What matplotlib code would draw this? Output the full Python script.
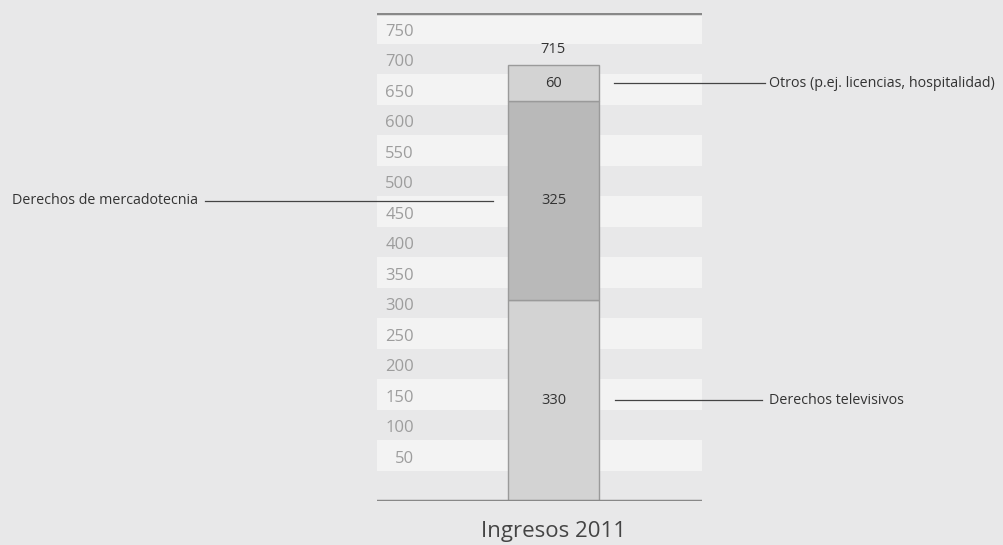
import matplotlib.pyplot as plt
from matplotlib.transforms import blended_transform_factory

# data
segments = ["Derechos televisivos", "Derechos de mercadotecnia",
            "Otros (p.ej. licencias, hospitalidad)"]
values = [330, 325, 60]
seg_colors = ["#d3d3d3", "#b9b9b9", "#d3d3d3"]
tick_values = list(range(50, 800, 50))
category = "Ingresos 2011"

plt.rcParams['font.family'] = ['Open Sans', 'DejaVu Sans']

BG = "#e8e8e9"
fig = plt.figure(figsize=(10.04, 5.45), dpi=100, facecolor=BG)
W, H = 1004, 545
ax = fig.add_axes([377 / W, (H - 501) / H, 325 / W, 488 / H])
ax.set_facecolor(BG)
ax.set_xlim(0, 1)
ax.set_ylim(0, 800)
for s in ax.spines.values():
    s.set_visible(False)
ax.set_xticks([])
ax.set_yticks([])

# alternating light stripes
for v in range(50, 800, 100):
    ax.axhspan(v, v + 50, color="#f3f3f3", lw=0, zorder=0)
ax.axhline(0, color="#888888", lw=2.5, zorder=3)
ax.axhline(800, color="#888888", lw=2.5, zorder=3)

# y labels sit in the band above each value
tr_ax = blended_transform_factory(ax.transAxes, ax.transData)
for v in tick_values:
    ax.text(0.114, v + 19, str(v), transform=tr_ax, ha="right", va="center",
            fontsize=12, color="#9d9d9d")

# stacked bar
xc, bw = 0.543, 0.28
bottom = 0
mids = []
for val, col in zip(values, seg_colors):
    ax.bar(xc, val, bw, bottom=bottom, color=col, edgecolor="#9a9a9a",
           lw=1, zorder=2)
    mids.append(bottom + val / 2)
    ax.text(xc, bottom + val / 2, str(val), ha="center", va="center",
            fontsize=10.5, color="#333333", zorder=4)
    bottom += val
ax.annotate(str(bottom), (xc, bottom), xytext=(0, 6), textcoords="offset points",
            ha="center", va="bottom", fontsize=10.5, color="#333333")

# leader lines and labels (x in figure pixels, y in data)
tr = blended_transform_factory(fig.transFigure, ax.transData)
leaders = [
    (615, 762, 769, "left"),    # televisivos
    (205, 493, 198, "right"),   # mercadotecnia
    (614, 765, 769, "left"),    # otros
]
for (x0, x1, xt, ha), name, y in zip(leaders, segments, mids):
    ax.plot([x0 / W, x1 / W], [y, y], transform=tr, color="#444444",
            lw=0.9, clip_on=False, zorder=4)
    ax.text(xt / W, y, name, transform=tr, ha=ha, va="center",
            fontsize=10.3, color="#333333", clip_on=False)

fig.text(xc * 325 / W + 377 / W, (H - 531) / H, category, ha="center",
         va="center", fontsize=16, color="#444444")

fig.savefig("out.png", dpi=100, facecolor=BG)
